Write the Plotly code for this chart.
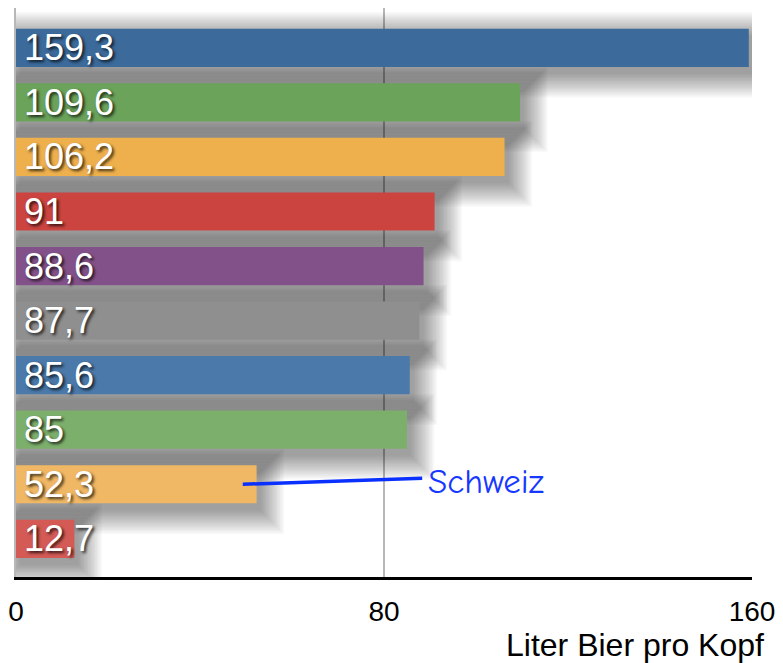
import plotly.graph_objects as go

# ---- data ----
values = [159.3, 109.6, 106.2, 91, 88.6, 87.7, 85.6, 85, 52.3, 12.7]
value_labels = ["159,3", "109,6", "106,2", "91", "88,6", "87,7", "85,6", "85", "52,3", "12,7"]
bar_colors = ["#3B6A9B", "#6BA35B", "#EEB04C", "#CB4440", "#835189",
              "#8E8F8E", "#4A79AA", "#7DAF6C", "#F0B865", "#D35A55"]
highlight_index = 8
highlight_label = "Schweiz"
x_tick_vals = [0, 80, 160]
x_tick_text = ["0", "80", "160"]
x_title = "Liter Bier pro Kopf"

positions = list(range(len(values)))

# ---- layout geometry helpers ----
W, H = 783, 663
M_L, M_R, M_T, M_B = 13, 30, 8, 86
PX_X = (W - M_L - M_R) / 160.0
Y_RANGE = [9.70, -0.73]
PX_Y = (H - M_T - M_B) / (Y_RANGE[0] - Y_RANGE[1])
BAR_W = 0.70

fig = go.Figure()

# soft drop shadows (layered translucent bars)
n_layers = 18
dx, dy = 4 / PX_X, 7 / PX_Y
for i in range(n_layers):
    e = 1.4 * i
    ex, ey = e / PX_X, e / PX_Y
    fig.add_trace(go.Bar(
        orientation="h", y=positions, x=[v + 2 * ex for v in values],
        base=dx - ex, width=BAR_W + 2 * ey, offset=-BAR_W / 2 + dy - ey,
        marker=dict(color="rgba(0,0,0,0.024)", line=dict(width=0)),
        hoverinfo="skip", showlegend=False))

# main bars
fig.add_trace(go.Bar(
    orientation="h", y=positions, x=values, base=0,
    width=BAR_W, offset=-BAR_W / 2,
    marker=dict(color=bar_colors, line=dict(width=0)),
    showlegend=False))

# pointer line to the highlighted bar
hv = values[highlight_index]
line_end_x = 88.3
fig.add_trace(go.Scatter(
    x=[hv - 3, line_end_x], y=[highlight_index, highlight_index - 0.11],
    mode="lines", line=dict(color="#0A30FF", width=3.5),
    hoverinfo="skip", showlegend=False))

annotations = []
for p, lab in zip(positions, value_labels):
    annotations.append(dict(
        x=0, y=p, xref="x", yref="y", xanchor="left", yanchor="middle",
        xshift=6, text=lab, showarrow=False,
        font=dict(family="Liberation Sans, Arial, sans-serif", size=36, color="white",
                  shadow="2px 2px 3px rgba(0,0,0,0.75)")))

annotations.append(dict(
    x=line_end_x, y=highlight_index, xref="x", yref="y", xanchor="left",
    yanchor="middle", xshift=4, yshift=3, text=highlight_label, showarrow=False,
    font=dict(family="Comic Sans MS, Comic Neue, Lato, sans-serif", size=35, color="#1638FF")))

annotations.append(dict(
    x=1, y=0, xref="paper", yref="paper", xanchor="right", yanchor="middle",
    xshift=14, yshift=-68, text=x_title, showarrow=False,
    font=dict(family="Liberation Sans, Arial, sans-serif", size=32, color="black")))

fig.update_layout(
    width=W, height=H,
    margin=dict(l=M_L, r=M_R, t=M_T, b=M_B),
    paper_bgcolor="white", plot_bgcolor="white",
    barmode="overlay",
    annotations=annotations,
    xaxis=dict(range=[0, 160], tickvals=x_tick_vals, ticktext=x_tick_text,
               showgrid=True, gridcolor="#b8b8b8", gridwidth=2,
               showline=True, linecolor="black", linewidth=2.5,
               zeroline=False, ticks="outside", ticklen=8, tickcolor="rgba(0,0,0,0)",
               tickfont=dict(family="Liberation Sans, Arial, sans-serif", size=28, color="black")),
    yaxis=dict(range=Y_RANGE, showticklabels=False, showgrid=False,
               showline=True, linecolor="#b8b8b8", linewidth=2,
               zeroline=False, ticks=""),
)

fig.write_html("out.html", config={"displayModeBar": False},
               post_script="document.body.style.margin='0px';document.body.style.padding='0px';")
